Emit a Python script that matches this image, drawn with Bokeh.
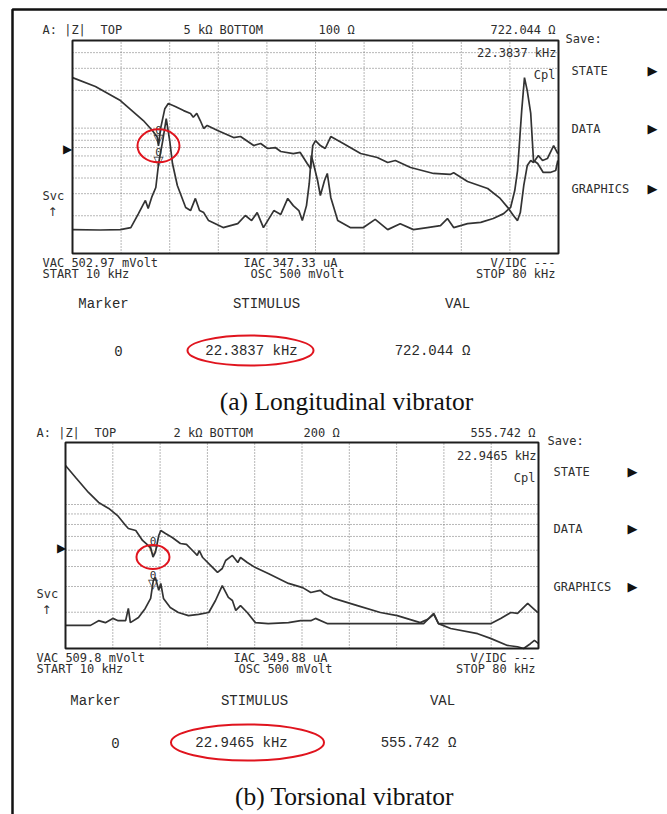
import numpy as np
from bokeh.plotting import figure
from bokeh.models import Range1d, LogScale, Label
from bokeh.embed import file_html
from bokeh.resources import INLINE
from bokeh.core.properties import value

W, H = 667, 814

# ---------------- data ----------------
# (a) Longitudinal vibrator: |Z| trace (Ohm) vs frequency (kHz)
freq_a_z = [10.0, 13.3, 16.9, 20.2, 21.5, 22.2, 22.38, 22.7, 23.3, 23.8, 24.8, 26.0, 27.0, 27.4, 27.9,
            28.4, 28.9, 29.4, 30.9, 33.2, 34.2, 36.1, 37.1, 38.1, 39.2, 40.0, 41.8, 42.8, 43.8,
            44.3, 44.6, 45.0, 45.7, 46.4, 47.2, 49.0, 51.5, 53.9, 55.4, 56.5, 58.7, 62.0, 64.4,
            64.9, 66.9, 69.8, 71.6, 72.8, 73.5, 74.1, 74.5, 75.0, 75.5, 76.0, 76.4, 77.1, 77.7,
            78.4, 79.3, 79.9]
z_a = [2530, 2150, 1660, 1150, 957, 850, 722, 1000, 1430, 1570, 1490, 1380, 1310, 1220, 1310,
       1150, 993, 1050, 957, 841, 857, 726, 754, 688, 700, 651, 627, 640, 522,
       476, 726, 796, 726, 688, 857, 754, 627, 583, 532, 552, 485, 435, 427,
       440, 375, 330, 275, 229, 201, 183, 212, 349, 503, 552, 532, 604, 552,
       572, 726, 627]
# (a) second trace (Cp), same display scale
freq_a_b = [10.0, 14.0, 16.9, 18.4, 19.5, 20.1, 20.5, 20.9, 21.4, 22.0, 22.4, 23.0, 23.5, 24.0, 24.4,
            25.1, 26.3, 27.0, 27.7, 28.3, 28.9, 29.6, 31.7, 33.8, 34.9, 35.8, 36.6, 37.5, 39.0,
            40.0, 41.0, 41.8, 42.6, 43.1, 43.7, 44.1, 44.4, 44.7, 45.3, 45.7, 46.3, 46.7, 47.2,
            48.2, 50.0, 51.9, 53.6, 55.4, 57.2, 59.1, 61.1, 63.0, 64.0, 64.9, 66.9, 68.8, 70.6,
            72.1, 73.1, 73.7, 74.1, 74.7, 75.1, 75.5, 76.0, 76.4, 77.0, 77.8, 78.8, 79.6, 79.9]
b_a = [155, 154, 155, 161, 208, 241, 265, 229, 280, 336, 522, 796, 1190, 796, 522,
       349, 233, 220, 275, 220, 212, 183, 161, 173, 201, 183, 212, 161, 220,
       205, 275, 241, 220, 183, 241, 362, 604, 522, 382, 290, 382, 435, 280,
       183, 161, 161, 187, 155, 173, 155, 161, 167, 190, 161, 173, 177, 190,
       208, 233, 318, 459, 1380, 2530, 1990, 1310, 552, 522, 443, 443, 459, 552]

# (b) Torsional vibrator
freq_b_z = [10.0, 11.5, 13.4, 14.9, 16.4, 17.7, 18.9, 19.3, 20.4, 21.4, 22.6, 22.95, 23.3, 23.8, 24.1,
            24.8, 25.8, 27.0, 27.9, 28.8, 29.5, 29.8, 30.3, 31.8, 32.5, 33.2, 33.7, 34.7, 35.5,
            35.9, 36.9, 38.1, 40.0, 43.0, 45.1, 46.3, 47.7, 48.2, 49.7, 53.2, 56.6, 59.1, 62.5,
            63.6, 64.5, 65.2, 67.0, 71.0, 72.9, 75.4, 76.9, 77.8, 78.8, 79.4, 80.0]
z_b = [1546, 1352, 1144, 1023, 957, 884, 791, 765, 748, 669, 618, 556, 585, 707, 748,
       723, 692, 647, 640, 598, 566, 598, 553, 494, 468, 489, 535, 566, 523,
       553, 523, 494, 462, 414, 395, 374, 383, 370, 350, 323, 299, 289, 267,
       277, 293, 264, 250, 236, 224, 207, 204, 200, 211, 219, 211]
freq_b_b = [10.0, 13.7, 14.9, 15.9, 17.0, 17.8, 18.9, 19.3, 19.6, 20.8, 21.8, 22.6, 23.0, 23.3, 23.8,
            24.1, 24.5, 25.5, 26.7, 28.2, 29.7, 31.2, 32.2, 33.2, 34.1, 34.7, 35.2, 35.9, 36.9,
            38.1, 40.0, 43.0, 44.8, 46.3, 47.0, 48.8, 53.2, 58.1, 63.0, 64.5, 65.2, 68.0, 72.9,
            74.4, 75.9, 76.9, 78.4, 79.9]
b_b = [259, 259, 273, 267, 280, 273, 273, 313, 267, 283, 313, 350, 428, 442, 383,
       414, 350, 316, 299, 289, 293, 299, 342, 404, 354, 342, 306, 323, 299,
       267, 264, 267, 273, 273, 280, 264, 264, 264, 264, 296, 264, 264, 264,
       280, 299, 296, 331, 299]

# sweep and display settings
f_start, f_stop = 10, 80                 # kHz
grid_freqs = [17, 24, 31, 38, 45, 52, 59, 66, 73]
top_a, bottom_a = 5000, 100              # Ohm
top_b, bottom_b = 2000, 200
grid_z_a = [200, 300, 400, 500, 600, 700, 800, 900, 1000, 2000, 3000, 4000]
grid_z_b = [300, 400, 500, 600, 700, 800, 900, 1000]
marker_f_a, marker_z_a, marker_b_a = 22.3837, 722.044, 480
marker_f_b, marker_z_b, marker_b_b = 22.9465, 555.742, 380

# ---------------- figure (one canvas, y measured downward) ----------------
p = figure(width=W, height=H, x_range=Range1d(0, W), y_range=Range1d(H, 0),
           output_backend="svg", toolbar_location=None, min_border=0,
           x_axis_location=None, y_axis_location=None)
p.grid.visible = False
p.outline_line_color = None
p.background_fill_color = "white"

xr, yr, ys = {}, {}, {}
def panel_ranges(name, px0, px1, py_top, py_bot, zbot, ztop):
    kx = (f_stop - f_start) / (px1 - px0)
    xr[name] = Range1d(f_start - px0 * kx, f_start + (W - px0) * kx)
    ky = (np.log10(ztop) - np.log10(zbot)) / (py_bot - py_top)
    lo = np.log10(zbot) - (H - py_bot) * ky
    hi = np.log10(zbot) + py_bot * ky
    yr[name] = Range1d(10 ** lo, 10 ** hi)
    ys[name] = LogScale()

panel_ranges("a", 72, 558, 40, 253, bottom_a, top_a)
panel_ranges("b", 65, 538, 442, 648, bottom_b, top_b)
p.extra_x_ranges = xr
p.extra_y_ranges = yr
p.extra_y_scales = ys

INK = "#2e2e2e"
TRACE = "#333333"
GRID = "#6f6f6f"
MONO = "DejaVu Sans Mono"

def draw_panel(name, fz, zz, fb, bb, zbot, ztop, gz, mf, mz, mb, ell_w, ell_h):
    kw = dict(x_range_name=name, y_range_name=name)
    n = len(grid_freqs)
    p.segment(x0=grid_freqs, y0=[zbot] * n, x1=grid_freqs, y1=[ztop] * n,
              line_color=GRID, line_dash="1 2", line_width=1, **kw)
    m = len(gz)
    p.segment(x0=[f_start] * m, y0=gz, x1=[f_stop] * m, y1=gz,
              line_color=GRID, line_dash="1 2", line_width=1, **kw)
    p.line(fz, zz, line_color=TRACE, line_width=1.7, **kw)
    p.line(fb, bb, line_color=TRACE, line_width=1.7, **kw)
    p.quad(left=[f_start], right=[f_stop], bottom=[zbot], top=[ztop],
           fill_color=None, line_color="#1e1e1e", line_width=2, **kw)
    # markers
    p.text(x=[mf, mf], y=[mz, mb], text=["▽", "▽"], text_align="center",
           text_baseline="bottom", text_font=value("DejaVu Sans"),
           text_font_size="13px", text_color=INK, **kw)
    p.text(x=[mf, mf], y=[mz, mb], text=["0", "0"], text_align="center",
           text_baseline="bottom", y_offset=-12, text_font=value(MONO),
           text_font_size="11px", text_color=INK, **kw)
    p.ellipse(x=[mf], y=[mz], width=ell_w, height=ell_h, width_units="screen",
              height_units="screen", fill_color=None, line_color="#e0141e",
              line_width=2, **kw)

draw_panel("a", freq_a_z, z_a, freq_a_b, b_a, bottom_a, top_a, grid_z_a,
           marker_f_a, marker_z_a, marker_b_a, 42, 33)
draw_panel("b", freq_b_z, z_b, freq_b_b, b_b, bottom_b, top_b, grid_z_b,
           marker_f_b, marker_z_b, marker_b_b, 33, 24)

def label(x, y, s, size=12, align="left", font=MONO, color=INK, style="normal"):
    p.add_layout(Label(x=x, y=y, text=s, text_font=font, text_font_size=f"{size}px",
                       text_align=align, text_baseline="middle", text_color=color,
                       text_font_style=style))

def screen_texts(x_l, x_r, y_head, y_bot, val_z, val_f, menu_x, arrow_x, y_save,
                 y_menu, y_ptr, y_svc, iac_x, osc_x, vac, iac, top_txt, top_x, bot_txt, bot_x):
    label(x_l, y_head, "A: |Z|")
    label(x_l + 58, y_head, "TOP")
    label(top_x, y_head, top_txt)
    label(bot_x, y_head, bot_txt)
    label(x_r - 3, y_head, val_z, align="right")
    label(menu_x - 6, y_save, "Save:")
    label(x_r - 2, y_head + 23, val_f, align="right")
    label(x_r - 3, y_head + 45, "Cpl", align="right")
    for yy, s in zip(y_menu, ["STATE", "DATA", "GRAPHICS"]):
        label(menu_x, yy, s)
        label(arrow_x, yy, "▶", size=13, align="center", font="DejaVu Sans", color="#111")
    label(x_l + 25, y_ptr, "▶", size=12, align="center", font="DejaVu Sans", color="#111")
    label(x_l, y_svc, "Svc")
    label(x_l + 10, y_svc + 16, "↑", size=12, align="center", font="DejaVu Sans")
    label(x_l, y_bot, vac)
    label(x_l, y_bot + 11, "START 10 kHz")
    label(iac_x, y_bot, iac)
    label(osc_x, y_bot + 11, "OSC 500 mVolt")
    label(x_r - 3, y_bot, "V/IDC ---", align="right")
    label(x_r - 3, y_bot + 11, "STOP 80 kHz", align="right")

screen_texts(42, 558, 29, 262, "722.044 Ω", "22.3837 kHz", 571, 652, 38,
             [70, 128, 188], 148, 195, 243, 250, "VAC  502.97 mVolt", "IAC  347.33 uA",
             "5 kΩ BOTTOM", 183, "100 Ω", 318)
screen_texts(36, 538, 432, 657, "555.742 Ω", "22.9465 kHz", 553, 632, 440,
             [471, 528, 586], 547, 593, 233, 238, "VAC  509.8 mVolt", "IAC  349.88 uA",
             "2 kΩ BOTTOM", 173, "200 Ω", 303)

TFONT = "Liberation Mono"
def table(y_h, y_v, xs, f_txt, z_txt, ell_x, ell_w, ell_h):
    for x, y, s in [(xs[0], y_h, "Marker"), (xs[1], y_h, "STIMULUS"), (xs[2], y_h, "VAL"),
                    (xs[3], y_v, "0"), (xs[4], y_v, f_txt), (xs[5], y_v, z_txt)]:
        label(x, y, s, size=14, align="center", font=TFONT, color="#2a2a2a")
    p.ellipse(x=[ell_x], y=[y_v], width=ell_w, height=ell_h, fill_color=None,
              line_color="#e0141e", line_width=2)

table(303, 350, [103, 266, 457, 118, 251, 432], "22.3837 kHz", "722.044 Ω", 250, 126, 30)
table(700, 742, [95, 254, 442, 115, 241, 418], "22.9465 kHz", "555.742 Ω", 247, 153, 36)

label(346, 401, "(a) Longitudinal vibrator", size=25.5, align="center",
      font="Liberation Serif", color="#111")
label(344, 796, "(b) Torsional vibrator", size=25.5, align="center",
      font="Liberation Serif", color="#111")

# outer border
p.quad(left=[12], right=[W + 10], top=[9], bottom=[H + 10], fill_color=None,
       line_color="#111", line_width=2.5)

open("out.html", "w").write(file_html(p, INLINE))
